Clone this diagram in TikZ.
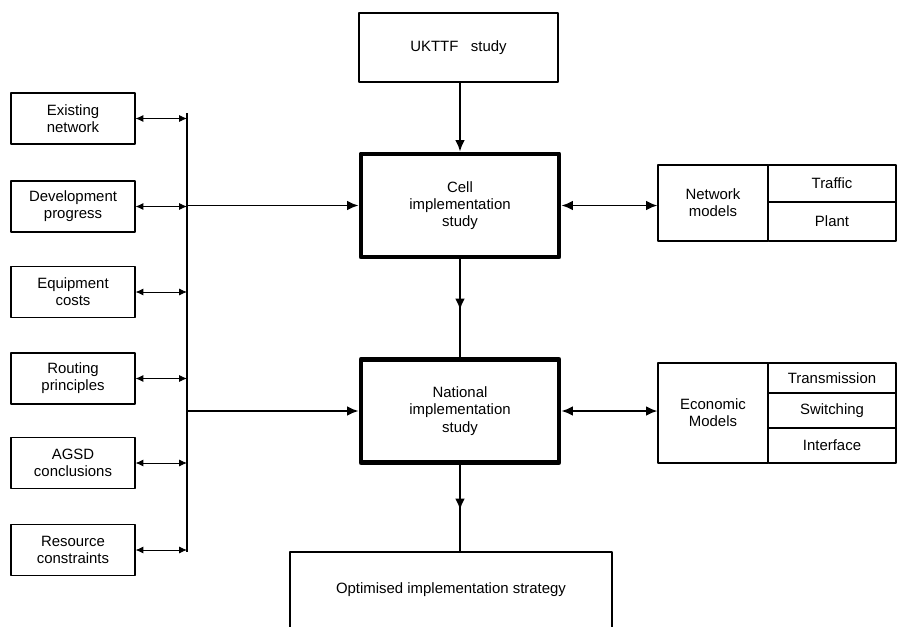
\documentclass[tikz,border=0pt]{standalone}
\usepackage{fontspec}
\setmainfont{Liberation Sans}
\usetikzlibrary{arrows.meta}
\begin{document}
\begin{tikzpicture}[x=0.02cm,y=-0.02cm,line join=round,
	font=\fontsize{8.5}{9.8}\selectfont,
	box/.style={draw,line width=0.6pt,align=center,inner sep=1pt},
	bigbox/.style={draw,line width=2.8pt,align=center,minimum width=3.96cm,minimum height=2.06cm},
	srcbox/.style={box,minimum width=2.48cm,minimum height=1.02cm},
	cellbox/.style={box,minimum width=2.56cm},
	mainarr/.style={line width=1.1pt,-{Latex[length=6.5pt,width=5.5pt]}},
	mainline/.style={line width=1.1pt},
	dblarr/.style={line width=1.1pt,{Latex[length=6.5pt,width=5.5pt]}-{Latex[length=6.5pt,width=5.5pt]}},
	smallarr/.style={line width=0.5pt,{Latex[length=4.5pt,width=4pt]}-{Latex[length=4.5pt,width=4pt]}}]
	\useasboundingbox (0,0) rectangle (898,626);
	% khoi giua
	\node[box,minimum width=3.98cm,minimum height=1.38cm] (ukttf) at (458.5,47.5) {UKTTF\ \ \ study};
	\node[bigbox] (cell) at (460,205.5) {Cell\\implementation\\study};
	\node[bigbox] (nat) at (460,411) {National\\implementation\\study};
	\node (opt) at (451,590) {Optimised implementation strategy};
	\draw[line width=0.6pt] (290,630) |- (612,552) -- (612,630);
	\path (460,552) coordinate (optTop)
		(460,310) coordinate (m1)
		(460,510) coordinate (m2);
	% khoi trai
	\node[srcbox] (exist) at (73,118.5) {Existing\\network};
	\node[srcbox] (dev) at (73,206.5) {Development\\progress};
	\node[srcbox] (equip) at (73,292) {Equipment\\costs};
	\node[srcbox] (rout) at (73,378.5) {Routing\\principles};
	\node[srcbox] (agsd) at (73,463) {AGSD\\conclusions};
	\node[srcbox] (res) at (73,550) {Resource\\constraints};
	\path (187,113) coordinate (busT) (187,552) coordinate (busB);
	% khoi phai
	\node[box,minimum width=2.2cm,minimum height=1.52cm] (netm) at (713,203) {Network\\models};
	\node[cellbox,minimum height=0.74cm] (traf) at (832,183.5) {Traffic};
	\node[cellbox,minimum height=0.78cm] (plant) at (832,221.5) {Plant};
	\node[box,minimum width=2.2cm,minimum height=2cm] (econ) at (713,413) {Economic\\Models};
	\node[cellbox,minimum height=0.6cm] (trans) at (832,378) {Transmission};
	\node[cellbox,minimum height=0.7cm] (sw) at (832,410.5) {Switching};
	\node[cellbox,minimum height=0.7cm] (intf) at (832,445.5) {Interface};
	% mui ten
	\draw[mainarr] (ukttf.south -| cell.north) -- (cell.north);
	\draw[mainline] (cell) -- (nat);
	\draw[mainarr] (cell.south) -- (m1);
	\draw[mainline] (nat) -- (optTop);
	\draw[mainarr] (nat.south) -- (m2);
	\draw[line width=1.4pt] (busT) -- (busB);
	\foreach \s in {exist,dev,equip,rout,agsd,res}
		\draw[smallarr] (\s.east) -- (\s.east -| busT);
	\draw[mainarr] (cell.west -| busT) -- (cell.west);
	\draw[mainarr] (nat.west -| busT) -- (nat.west);
	\draw[dblarr] (cell.east) -- (cell.east -| netm.west);
	\draw[dblarr] (nat.east) -- (nat.east -| econ.west);
\end{tikzpicture}
\end{document}
